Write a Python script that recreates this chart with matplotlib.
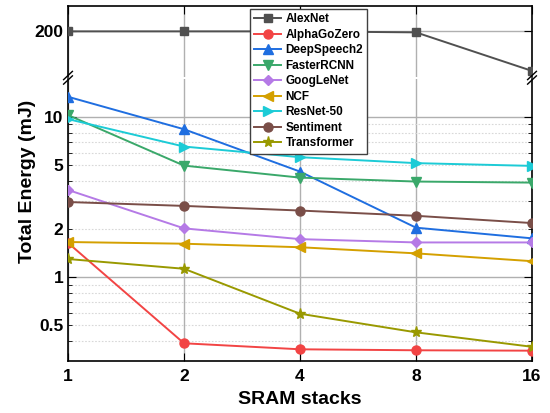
import matplotlib
matplotlib.use("Agg")
import matplotlib.pyplot as plt
from matplotlib.ticker import FixedLocator, NullFormatter, FixedFormatter

plt.rcParams["font.family"] = ["Liberation Sans", "DejaVu Sans"]
plt.rcParams["font.weight"] = "bold"

stacks = [1, 2, 4, 8, 16]
names = ["AlexNet", "AlphaGoZero", "DeepSpeech2", "FasterRCNN", "GoogLeNet",
         "NCF", "ResNet-50", "Sentiment", "Transformer"]
alexnet = [200, 200, 200, 199, 161]
alphagozero = [1.64, 0.387, 0.355, 0.35, 0.348]
deepspeech2 = [13.4, 8.4, 4.57, 2.04, 1.75]
fasterrcnn = [10.3, 4.98, 4.19, 3.96, 3.90]
googlenet = [3.51, 2.02, 1.73, 1.65, 1.65]
ncf = [1.66, 1.62, 1.54, 1.41, 1.26]
resnet50 = [9.72, 6.55, 5.62, 5.16, 4.96]
sentiment = [2.95, 2.79, 2.61, 2.42, 2.18]
transformer = [1.30, 1.13, 0.592, 0.453, 0.368]

series = [alexnet, alphagozero, deepspeech2, fasterrcnn, googlenet,
          ncf, resnet50, sentiment, transformer]
colors = ["#505050", "#f24444", "#1f6ee0", "#3aa86a", "#b57ae6",
          "#d4a000", "#1ccbd6", "#7a4e48", "#999900"]
markers = ["s", "o", "^", "v", "D", "<", ">", "o", "*"]
msizes = [6, 6.5, 7, 7, 5.5, 7, 7, 6.5, 8]

fig = plt.figure(figsize=(5.5, 4.13), dpi=100)
left, right = 68 / 550, 532 / 550
ax_top = fig.add_axes([left, 1 - 77 / 413, right - left, 71 / 413])
ax = fig.add_axes([left, 1 - 361 / 413, right - left, 282 / 413])

handles = []
for vals, name, c, m, ms in zip(series, names, colors, markers, msizes):
    for a in (ax_top, ax):
        h, = a.plot(stacks, vals, color=c, marker=m, markersize=ms, lw=1.4, label=name, zorder=3)
    handles.append(h)

for a in (ax_top, ax):
    a.set_xscale("log", base=2)
    a.set_xlim(1, 16)
    a.xaxis.set_major_locator(FixedLocator(stacks))
    a.xaxis.set_minor_locator(FixedLocator([]))
    a.grid(True, axis="x", color="#b0b0b0", lw=1)
    a.tick_params(direction="in", which="both", top=True, right=True, labelsize=12.5)
    for s in a.spines.values():
        s.set_linewidth(1.2)

ax.xaxis.set_major_formatter(FixedFormatter([str(s) for s in stacks]))
ax_top.xaxis.set_major_formatter(NullFormatter())
ax_top.tick_params(axis="x", bottom=False, length=6)
ax.tick_params(axis="x", top=False, length=6, pad=6)

ax_top.set_ylim(155, 225)
ax_top.yaxis.set_major_locator(FixedLocator([200]))
ax_top.yaxis.set_major_formatter(FixedFormatter(["200"]))
ax_top.grid(True, axis="y", color="#b0b0b0", lw=1)
ax_top.spines["bottom"].set_visible(False)
ax_top.tick_params(axis="y", length=6)

ax.set_yscale("log")
ax.set_ylim(0.3, 17.3)
ax.spines["top"].set_visible(False)
ax.yaxis.set_major_locator(FixedLocator([1, 10]))
ax.yaxis.set_minor_locator(FixedLocator([0.4, 0.5, 0.6, 0.7, 0.8, 0.9,
                                         2, 3, 4, 5, 6, 7, 8, 9]))
ax.yaxis.set_major_formatter(FixedFormatter(["1", "10"]))
ax.yaxis.set_minor_formatter(FixedFormatter(["", "0.5", "", "", "", "",
                                             "2", "", "", "5", "", "", "", ""]))
ax.tick_params(axis="y", which="major", length=6)
ax.tick_params(axis="y", which="minor", length=3, labelsize=12.5)
ax.grid(True, axis="y", which="major", color="#b0b0b0", lw=1)
ax.grid(True, axis="y", which="minor", color="#d8d8d8", lw=0.8, ls=(0, (1.5, 1.5)))

# break marks
kw = dict(color="black", lw=1.0, clip_on=False, transform=fig.transFigure)
for xp in (left, right):
    for yp in (1 - 75.5 / 413, 1 - 80 / 413):
        fig.add_artist(plt.Line2D([xp - 0.008, xp + 0.008], [yp - 0.01, yp + 0.01], **kw))

fig.text(0.05, 1 - 181 / 413, "Total Energy (mJ)", rotation=90, ha="center",
         va="center", fontsize=14, fontweight="bold")
fig.text((left + right) / 2, 1 - 400 / 413, "SRAM stacks", ha="center",
         va="center", fontsize=14, fontweight="bold")

leg = fig.legend(handles=handles, loc="upper left",
                 bbox_to_anchor=(250 / 550, 1 - 9 / 413), fancybox=False,
                 edgecolor="#404040", framealpha=1, fontsize=8.5,
                 handlelength=2.3, labelspacing=0.3, borderpad=0.35,
                 handletextpad=0.35, borderaxespad=0)
leg.get_frame().set_linewidth(1)

fig.savefig("out.png", dpi=100)
